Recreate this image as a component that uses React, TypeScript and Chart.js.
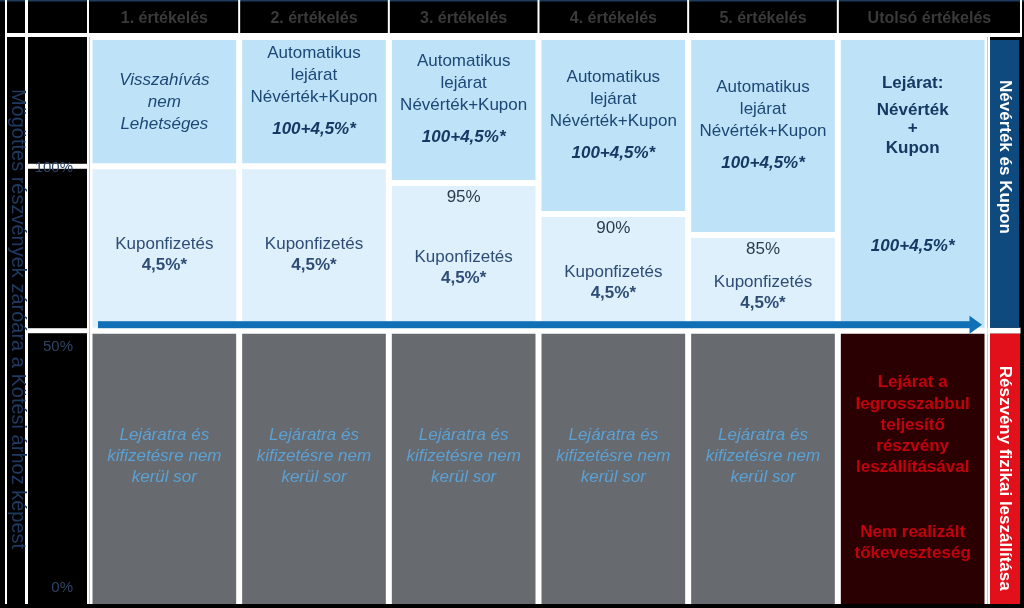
import { useEffect, useRef } from 'react';
import { Chart, registerables } from 'chart.js';

Chart.register(...registerables);

// ---- data (schematic units on a 0..100 vertical scale) ----
const evaluations = ['1. értékelés', '2. értékelés', '3. értékelés', '4. értékelés', '5. értékelés', 'Utolsó értékelés'];
const scaleTop = 100;
const redemptionFloor = [77.2, 77.2, 74.25, 68.8, 65.1, 48.2];
const couponFloor: (number | null)[] = [48.2, 48.2, 48.2, 48.2, 48.2, null];
const lossCeiling = [48.2, 48.2, 48.2, 48.2, 48.2, 48.2];
const barrierLabels = ['', '', '95%', '90%', '85%', ''];
const yTickValues = [77.2, 48.2, 0];
const yTickLabels = ['100%', '50%', '0%'];
const sectionLevel = 48.2;

// ---- texts ----
const axisTitle = 'Mögöttes részvények záróára a Kötési árhoz képest';
const firstCallText = ['Visszahívás', 'nem', 'Lehetséges'];
const autocallText = ['Automatikus', 'lejárat', 'Névérték+Kupon'];
const redemptionAmount = '100+4,5%*';
const couponText = ['Kuponfizetés', '4,5%*'];
const finalTopText = ['Lejárat:', 'Névérték', '+', 'Kupon'];
const noPayText = ['Lejáratra és', 'kifizetésre nem', 'kerül sor'];
const deliveryText = ['Lejárat a', 'legrosszabbul', 'teljesítő', 'részvény', 'leszállításával'];
const lossText = ['Nem realizált', 'tőkeveszteség'];
const sideTop = 'Névérték és Kupon';
const sideBottom = 'Részvény fizikai leszállítása';

const FF = '"Liberation Sans", Arial, sans-serif';
const fReg = `17px ${FF}`;
const fIt = `italic 17px ${FF}`;
const fBold = `bold 17px ${FF}`;
const fBoldIt = `italic bold 17px ${FF}`;

const C_TOP = '#BEE3F8';
const C_COUPON = '#DDF0FC';
const C_GRAY = '#676A6F';
const C_DARKRED = '#2B0003';
const T_BLUE = '#1D4775';
const T_NAVY = '#153962';
const T_COUPON = '#2F4C75';
const T_PCT = '#2D3A4D';
const T_GRAY = '#5BA1D4';
const T_RED = '#C4000C';

const diagramPlugin = {
  id: 'diagram',
  beforeDraw(chart: any) {
    const { ctx, chartArea: a, scales } = chart;
    const x = scales.x;
    const y = scales.y;
    ctx.save();
    ctx.fillStyle = '#000';
    ctx.fillRect(0, 0, chart.width, chart.height);
    ctx.fillStyle = '#1F3A5F';
    ctx.fillRect(0, 0, chart.width, 1.5);

    ctx.fillStyle = '#fff';
    // chart area backdrop (white separators between cells)
    ctx.fillRect(a.left, a.top, a.right - a.left, a.bottom - a.top);
    // header separator
    ctx.fillRect(5, 33, 1017, 4);
    // left column lines
    ctx.fillRect(5, 0, 2, a.bottom);
    ctx.fillRect(25, 0, 3, a.bottom);
    ctx.fillRect(87, 0, 2, a.top);
    ctx.fillRect(87, a.top, a.left - 87, a.bottom - a.top);
    // header separators
    const w = (a.right - a.left) / evaluations.length;
    for (let i = 1; i < evaluations.length; i++) {
      ctx.fillRect(a.left + i * w - 1, 0, 2, 35);
    }
    ctx.fillRect(1020, 0, 2, 35);

    // header texts
    ctx.font = `bold 16px ${FF}`;
    ctx.fillStyle = '#3A3A3A';
    ctx.textAlign = 'center';
    ctx.textBaseline = 'middle';
    evaluations.forEach((lab, i) => {
      let cx = x.getPixelForValue(i);
      if (i === evaluations.length - 1) cx = (a.left + i * w + 1021) / 2;
      ctx.fillText(lab, cx, 19);
    });

    // y ticks
    const labelDy = [1.5, 16.5, -16];
    yTickValues.forEach((v) => {
      const py = y.getPixelForValue(v);
      if (v > 0) {
        ctx.fillStyle = '#fff';
        ctx.fillRect(28, py - 2.5, 59, 5);
      }
    });
    ctx.font = `15px ${FF}`;
    ctx.fillStyle = '#2F4462';
    ctx.textAlign = 'right';
    yTickValues.forEach((v, i) => {
      const py = y.getPixelForValue(v);
      ctx.fillText(yTickLabels[i], 73, py + labelDy[i]);
    });

    // rotated axis title
    ctx.save();
    ctx.translate(12, 319);
    ctx.rotate(Math.PI / 2);
    ctx.font = `20px ${FF}`;
    ctx.fillStyle = '#1F3A60';
    ctx.textAlign = 'center';
    ctx.textBaseline = 'alphabetic';
    ctx.fillText(axisTitle, 0, 0);
    ctx.restore();

    ctx.restore();
  },
  afterDatasetsDraw(chart: any) {
    const { ctx, chartArea: a, scales } = chart;
    const x = scales.x;
    const y = scales.y;
    ctx.save();
    ctx.textAlign = 'center';
    ctx.textBaseline = 'middle';
    const put = (t: string, cx: number, cy: number, font: string, color: string) => {
      ctx.font = font;
      ctx.fillStyle = color;
      ctx.fillText(t, cx, cy);
    };

    evaluations.forEach((_, i) => {
      const cx = x.getPixelForValue(i);
      const topT = y.getPixelForValue(scaleTop) + 3;
      const topB = y.getPixelForValue(redemptionFloor[i]) - 3;
      const topC = (topT + topB) / 2;
      if (i === 0) {
        firstCallText.forEach((t, k) => put(t, cx, topC + 1 + (k - 1) * 22, fIt, T_BLUE));
      } else if (i < evaluations.length - 1) {
        const base = topC - 10.5;
        autocallText.forEach((t, k) => put(t, cx, base - 38 + k * 22, fReg, T_BLUE));
        put(redemptionAmount, cx, base + 38, fBoldIt, T_NAVY);
      } else {
        const offs = [43, 70, 88, 108];
        finalTopText.forEach((t, k) => put(t, cx, topT + offs[k], fBold, T_NAVY));
        put(redemptionAmount, cx, topT + 206, fBoldIt, T_NAVY);
      }

      const cf = couponFloor[i];
      if (cf !== null) {
        const bT = y.getPixelForValue(redemptionFloor[i]) + 3;
        const bB = y.getPixelForValue(cf) - 3;
        const bC = (bT + bB) / 2;
        const hasPct = barrierLabels[i] !== '';
        if (hasPct) put(barrierLabels[i], cx, bT + 11.5, fReg, T_PCT);
        const k0 = bC + (hasPct ? 10.5 : 6);
        put(couponText[0], cx, k0 - 10.5, fReg, T_COUPON);
        put(couponText[1], cx, k0 + 10.5, fBold, T_COUPON);
      }

      const lT = y.getPixelForValue(lossCeiling[i]) + 3;
      if (i < evaluations.length - 1) {
        noPayText.forEach((t, k) => put(t, cx, lT + 101.5 + k * 21, fIt, T_GRAY));
      } else {
        const d1 = [48.5, 70.5, 91.5, 112.5, 133.5];
        deliveryText.forEach((t, k) => put(t, cx, lT + d1[k], fBold, T_RED));
        const d2 = [198.5, 219.5];
        lossText.forEach((t, k) => put(t, cx, lT + d2[k], fBold, T_RED));
      }
    });

    // arrow
    const ay = y.getPixelForValue(sectionLevel) - 6;
    ctx.fillStyle = '#1170B5';
    ctx.fillRect(a.left + 8.5, ay - 3.5, a.right - a.left - 8.5 - 17, 7);
    ctx.beginPath();
    ctx.moveTo(a.right - 18, ay - 9);
    ctx.lineTo(a.right - 5.5, ay);
    ctx.lineTo(a.right - 18, ay + 9);
    ctx.closePath();
    ctx.fill();

    // side bars
    const sTop = y.getPixelForValue(scaleTop) + 3;
    const sMid = y.getPixelForValue(sectionLevel);
    const sBot = y.getPixelForValue(0);
    ctx.fillStyle = '#fff';
    ctx.fillRect(a.right, a.top, 2.5, a.bottom - a.top);
    ctx.fillRect(a.right, sMid - 3, 33, 6);
    ctx.fillStyle = '#0F4A7E';
    ctx.fillRect(a.right + 2.5, sTop, 29, sMid - 3 - sTop);
    ctx.fillStyle = '#E2101B';
    ctx.fillRect(a.right + 2.5, sMid + 3, 30, sBot - sMid - 3);

    ctx.fillStyle = '#fff';
    ctx.font = fBold;
    ctx.save();
    ctx.translate(a.right + 17, sTop + 117);
    ctx.rotate(Math.PI / 2);
    ctx.fillText(sideTop, 0, 0);
    ctx.restore();
    ctx.save();
    ctx.translate(a.right + 17.5, sMid + 3 + 144.5);
    ctx.rotate(Math.PI / 2);
    ctx.fillText(sideBottom, 0, 0);
    ctx.restore();

    ctx.restore();
  },
};

export default function App() {
  const ref = useRef<HTMLCanvasElement | null>(null);
  useEffect(() => {
    if (!ref.current) return;
    const chart = new Chart(ref.current, {
      type: 'bar',
      data: {
        labels: evaluations,
        datasets: [
          {
            label: 'Lejárat',
            data: evaluations.map((_, i) => [redemptionFloor[i], scaleTop]) as any,
            backgroundColor: C_TOP,
            borderSkipped: false,
          },
          {
            label: 'Kupon',
            data: evaluations.map((_, i) => (couponFloor[i] === null ? null : [couponFloor[i], redemptionFloor[i]])) as any,
            backgroundColor: C_COUPON,
            borderSkipped: false,
          },
          {
            label: 'Veszteség',
            data: evaluations.map((_, i) => [0, lossCeiling[i]]) as any,
            backgroundColor: evaluations.map((_, i) => (i === evaluations.length - 1 ? C_DARKRED : C_GRAY)),
            borderSkipped: 'bottom',
          },
        ],
      },
      options: {
        responsive: false,
        animation: false,
        devicePixelRatio: 1,
        layout: { padding: { left: 89.5, right: 36.5, top: 37, bottom: 4 } },
        plugins: { legend: { display: false }, tooltip: { enabled: false } },
        datasets: {
          bar: {
            barPercentage: 1,
            categoryPercentage: 1,
            borderColor: '#ffffff',
            borderWidth: 3,
            inflateAmount: 0,
          },
        },
        scales: {
          x: { type: 'category', display: false, stacked: true },
          y: { type: 'linear', display: false, min: 0, max: scaleTop, stacked: false },
        },
      } as any,
      plugins: [diagramPlugin],
    });
    return () => chart.destroy();
  }, []);
  return (
    <div style={{ position: 'fixed', left: 0, top: 0, width: 1024, height: 608 }}>
      <canvas ref={ref} width={1024} height={608} style={{ display: 'block' }} />
    </div>
  );
}
